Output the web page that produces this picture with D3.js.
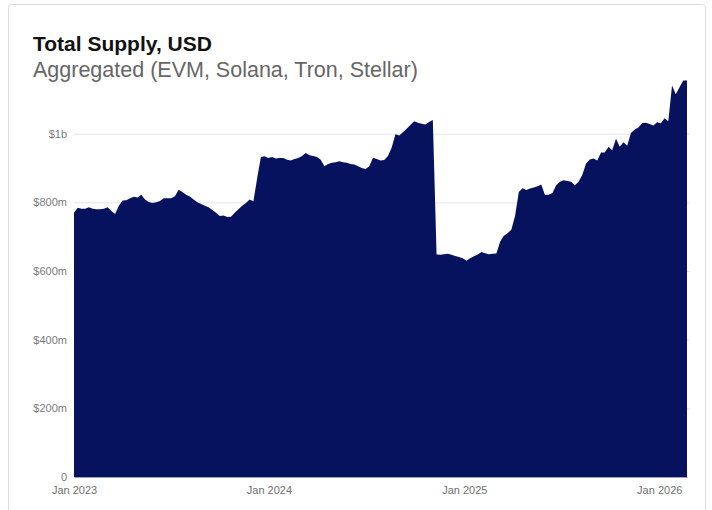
<!DOCTYPE html>
<html>
<head>
<meta charset="utf-8">
<script src="https://cdn.jsdelivr.net/npm/d3@7"></script>
<style>
  body { margin: 0; background: #fff; }
  svg { display: block; font-family: "Liberation Sans", Arial, sans-serif; }
</style>
</head>
<body>
<svg id="grafico" width="712" height="510"></svg>
<script>
// dados semanais, a partir de 1 jan 2023 (milhões de USD)
const inicio = "2023-01-01";
const passoDias = 7;
const supply = [
  770, 784, 781, 781, 786, 781, 780, 780, 781, 786,
  775, 766, 790, 805, 806, 812, 816, 814, 822, 808,
  801, 798, 800, 804, 812, 812, 812, 818, 837, 830,
  822, 817, 808, 800, 795, 790, 786, 778, 770, 760,
  762, 757, 758, 770, 780, 790, 798, 808, 803, 870,
  932, 934, 929, 932, 928, 929, 929, 924, 922, 926,
  929, 935, 944, 937, 935, 932, 924, 905, 912, 915,
  917, 920, 917, 915, 912, 910, 905, 900, 897, 905,
  930, 926, 922, 923, 935, 960, 998, 995, 1004, 1014,
  1025, 1036, 1032, 1029, 1027, 1034, 1040, 648, 647, 649,
  650, 647, 644, 641, 637, 630, 637, 643, 648, 655,
  652, 649, 650, 651, 685, 703, 710, 720, 760, 830,
  841, 836, 840, 843, 847, 852, 821, 822, 827, 850,
  860, 864, 862, 860, 850, 860, 880, 913, 925, 928,
  922, 945, 945, 962, 952, 985, 962, 975, 965, 1002,
  1012, 1018, 1031, 1032, 1028, 1024, 1033, 1030, 1045, 1036,
  1140, 1115, 1135, 1155, 1155
];
const yTicks = [0, 200, 400, 600, 800, 1000];
const yTickLabels = ["0", "$200m", "$400m", "$600m", "$800m", "$1b"];
const titulo = "Total Supply, USD";
const subtitulo = "Aggregated (EVM, Solana, Tron, Stellar)";

const svg = d3.select("#grafico");

const parse = d3.timeParse("%Y-%m-%d");
const dataInicio = parse(inicio);
const dados = supply.map((v, i) => ({ data: d3.timeDay.offset(dataInicio, i * passoDias), valor: v }));

// moldura do cartão
svg.append("rect")
  .attr("x", 8.5).attr("y", 4.5)
  .attr("width", 697).attr("height", 530)
  .attr("rx", 3)
  .attr("fill", "#fff")
  .attr("stroke", "#dcdcdc");

svg.append("text")
  .attr("x", 33).attr("y", 51)
  .style("font-size", "21px")
  .style("font-weight", "bold")
  .attr("fill", "#111")
  .text(titulo);

svg.append("text")
  .attr("x", 33).attr("y", 77)
  .style("font-size", "21.5px")
  .attr("fill", "#666")
  .text(subtitulo);

const x = d3.scaleTime()
  .domain(d3.extent(dados, d => d.data))
  .range([74, 687]);

const y = d3.scaleLinear()
  .domain([0, 1200])
  .range([477, 65]);

// grade horizontal
svg.append("g")
  .selectAll("line")
  .data(yTicks.filter(d => d > 0))
  .enter()
  .append("line")
  .attr("x1", 74).attr("x2", 690)
  .attr("y1", d => y(d) + 0.5).attr("y2", d => y(d) + 0.5)
  .attr("stroke", "#e4e4e4");

const area = d3.area()
  .x(d => x(d.data))
  .y0(y(0))
  .y1(d => y(d.valor));

svg.append("path")
  .datum(dados)
  .attr("d", area)
  .attr("fill", "#06125e");

// eixo y
const eixoY = d3.axisLeft(y)
  .tickValues(yTicks)
  .tickSize(0)
  .tickPadding(7)
  .tickFormat((d, i) => yTickLabels[i]);

svg.append("g")
  .attr("transform", "translate(74,0)")
  .call(eixoY)
  .call(g => g.select(".domain").remove())
  .call(g => g.selectAll("text")
    .style("font-size", "11px")
    .style("font-family", "Liberation Sans, Arial, sans-serif")
    .attr("fill", "#7a7a7a"));

// eixo x
const eixoX = d3.axisBottom(x)
  .ticks(d3.timeYear.every(1))
  .tickSize(0)
  .tickPadding(9)
  .tickFormat(d3.timeFormat("%b %Y"));

svg.append("g")
  .attr("transform", "translate(0,477)")
  .call(eixoX)
  .call(g => g.select(".domain").attr("stroke", "#9aa0b8"))
  .call(g => g.selectAll("text")
    .style("font-size", "11px")
    .style("font-family", "Liberation Sans, Arial, sans-serif")
    .attr("fill", "#6f6f6f"));
</script>
</body>
</html>
